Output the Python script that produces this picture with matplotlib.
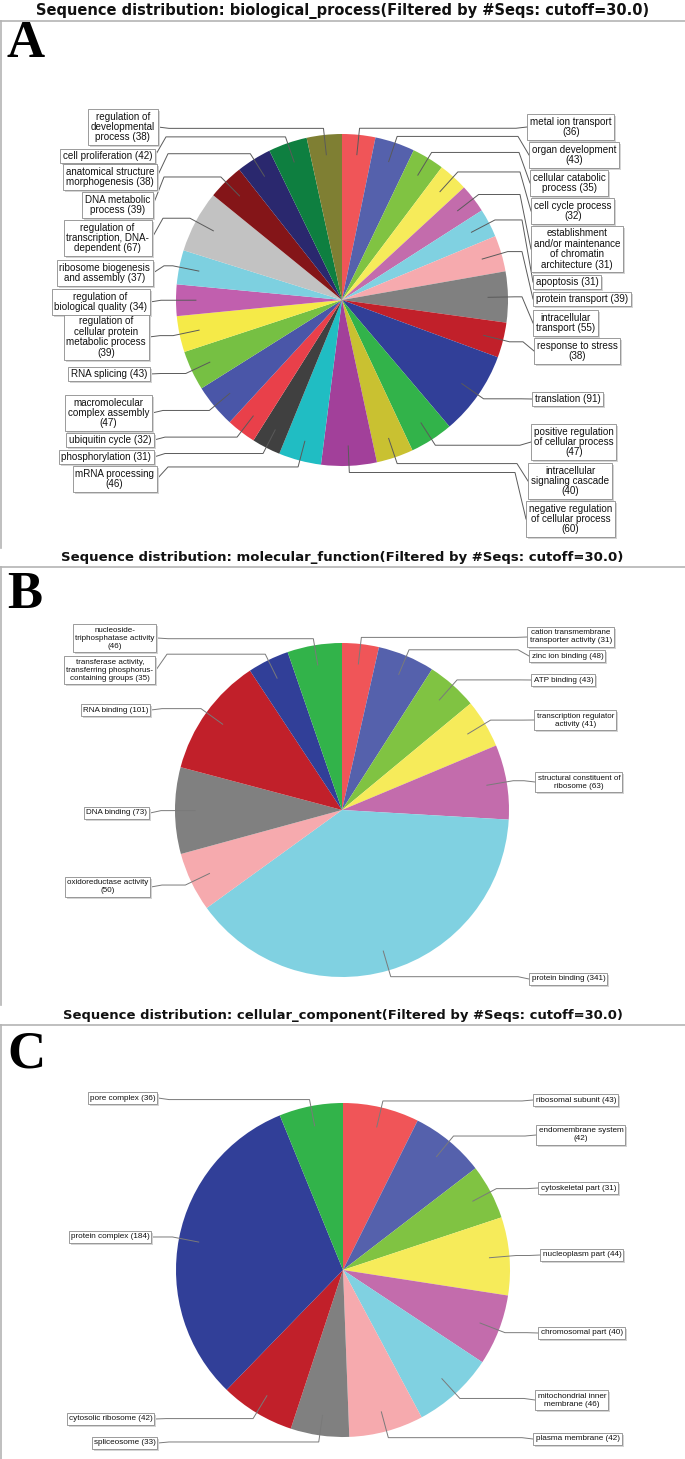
import matplotlib
matplotlib.use('Agg')
import matplotlib.pyplot as plt
import numpy as np

W, H = 685, 1459

# ---------------- data ----------------
bp_names = ["metal ion transport\n", "organ development\n", "cellular catabolic\nprocess",
            "cell cycle process\n", "establishment\nand/or maintenance\nof chromatin\narchitecture",
            "apoptosis", "protein transport", "intracellular\ntransport", "response to stress\n",
            "translation", "positive regulation\nof cellular process\n",
            "intracellular\nsignaling cascade\n", "negative regulation\nof cellular process\n",
            "mRNA processing\n", "phosphorylation", "ubiquitin cycle",
            "macromolecular\ncomplex assembly\n", "RNA splicing",
            "regulation of\ncellular protein\nmetabolic process\n",
            "regulation of\nbiological quality", "ribosome biogenesis\nand assembly",
            "regulation of\ntranscription, DNA-\ndependent", "DNA metabolic\nprocess",
            "anatomical structure\nmorphogenesis", "cell proliferation",
            "regulation of\ndevelopmental\nprocess"]
bp_values = [36, 43, 35, 32, 31, 31, 39, 55, 38, 91, 47, 40, 60, 46, 31, 32, 47, 43, 39, 34,
             37, 67, 39, 38, 42, 38]
bp_colors = ['#F05558', '#5561AC', '#80C342', '#F6EB5A', '#C36CAC', '#80D1E1', '#F6AAAE',
             '#808080', '#C1202A', '#313F98', '#32B34A', '#C9C131', '#A2409A', '#20BDC3',
             '#404040', '#E9404A', '#4A56A8', '#76C043', '#F5EA48', '#C15FAE', '#7DD0E0',
             '#C2C2C2', '#841518', '#2A286E', '#0E7F40', '#7F7F33']

mf_names = ["cation transmembrane\ntransporter activity", "zinc ion binding", "ATP binding",
            "transcription regulator\nactivity", "structural constituent of\nribosome",
            "protein binding", "oxidoreductase activity\n", "DNA binding", "RNA binding",
            "transferase activity,\ntransferring phosphorus-\ncontaining groups",
            "nucleoside-\ntriphosphatase activity\n"]
mf_values = [31, 48, 43, 41, 63, 341, 50, 73, 101, 35, 46]
mf_colors = ['#F05558', '#5561AC', '#80C342', '#F6EB5A', '#C36CAC', '#80D1E1', '#F6AAAE',
             '#808080', '#C1202A', '#313F98', '#32B34A']

cc_names = ["ribosomal subunit", "endomembrane system\n", "cytoskeletal part",
            "nucleoplasm part", "chromosomal part", "mitochondrial inner\nmembrane",
            "plasma membrane", "spliceosome", "cytosolic ribosome", "protein complex",
            "pore complex"]
cc_values = [43, 42, 31, 44, 40, 46, 42, 33, 42, 184, 36]
cc_colors = ['#F05558', '#5561AC', '#80C342', '#F6EB5A', '#C36CAC', '#80D1E1', '#F6AAAE',
             '#808080', '#C1202A', '#313F98', '#32B34A']

titles = ["Sequence distribution: biological_process(Filtered by #Seqs: cutoff=30.0)",
          "Sequence distribution: molecular_function(Filtered by #Seqs: cutoff=30.0)",
          "Sequence distribution: cellular_component(Filtered by #Seqs: cutoff=30.0)"]
panel_letters = ["A", "B", "C"]

# ---------------- layout (pixels) ----------------
bp_layout = [('R', 527, 127), ('R', 529, 155), ('R', 530, 183), ('R', 531, 211),
             ('R', 531, 249), ('R', 533, 282), ('R', 533, 299), ('R', 533, 323),
             ('R', 534, 351), ('R', 532, 399), ('R', 531, 442), ('R', 528, 481),
             ('R', 526, 519), ('L', 157, 479), ('L', 154, 457), ('L', 154, 440),
             ('L', 152, 413), ('L', 150, 374), ('L', 149, 337), ('L', 150, 302),
             ('L', 153, 273), ('L', 152, 238), ('L', 153, 205), ('L', 157, 177),
             ('L', 155, 156), ('L', 158, 127)]
mf_layout = [('R', 527, 637), ('R', 529, 656), ('R', 531, 680), ('R', 534, 720),
             ('R', 535, 782), ('R', 529, 979), ('L', 151, 887), ('L', 150, 813),
             ('L', 151, 710), ('L', 156, 670), ('L', 157, 638)]
cc_layout = [('R', 533, 1100), ('R', 536, 1135), ('R', 538, 1188), ('R', 540, 1255),
             ('R', 538, 1333), ('R', 535, 1400), ('R', 533, 1439), ('L', 158, 1443),
             ('L', 155, 1419), ('L', 152, 1237), ('L', 158, 1098)]

panels = [
    dict(names=bp_names, values=bp_values, colors=bp_colors, layout=bp_layout,
         center=(342, 300), r=166, fs=7.1, ls=1.05, title_y=11, line_y=21, bottom=548,
         letter_y=44, title_fs=10.5, lc='#5a5a5a'),
    dict(names=mf_names, values=mf_values, colors=mf_colors, layout=mf_layout,
         center=(342, 810), r=167, fs=5.8, ls=1.2, title_y=558, line_y=567, bottom=1005,
         letter_y=595, title_fs=9.5, lc='#7a7a7a'),
    dict(names=cc_names, values=cc_values, colors=cc_colors, layout=cc_layout,
         center=(343, 1270), r=167, fs=5.9, ls=1.2, title_y=1016, line_y=1025, bottom=H,
         letter_y=1054, title_fs=9.45, lc='#7a7a7a'),
]

fig = plt.figure(figsize=(W / 100, H / 100), dpi=100)
ax = fig.add_axes([0, 0, 1, 1])

LABEL_FONT = ['Liberation Sans', 'DejaVu Sans']

for i, p in enumerate(panels):
    cx, cy = p['center']
    r = p['r']
    wedges, _ = ax.pie(p['values'], colors=p['colors'], startangle=-90, counterclock=True,
                       center=(cx, cy), radius=r, frame=True,
                       wedgeprops=dict(linewidth=0, antialiased=True))
    padpx = 0.25 * p['fs'] * 100 / 72
    for w, name, v, (side, ex, ey) in zip(wedges, p['names'], p['values'], p['layout']):
        th = np.deg2rad((w.theta1 + w.theta2) / 2)
        ux, uy = np.cos(th), np.sin(th)
        p0 = (cx + 0.88 * r * ux, cy + 0.88 * r * uy)
        p1 = (cx + 1.04 * r * ux, cy + 1.04 * r * uy)
        sgn = 1 if side == 'R' else -1
        p2 = (ex - sgn * 11, p1[1])
        p3 = (ex, ey)
        ax.plot([p0[0], p1[0], p2[0], p3[0]], [p0[1], p1[1], p2[1], p3[1]],
                color=p['lc'], lw=0.7, zorder=3, solid_joinstyle='miter')
        txt = name + ('' if name.endswith('\n') else ' ') + f'({v})'
        tx = ex + sgn * (padpx + 0.5)
        ha = 'left' if side == 'R' else 'right'
        # shadow
        ax.text(tx + 2, ey + 2, txt, ha=ha, va='center', multialignment='center',
                fontsize=p['fs'], family=LABEL_FONT, color=(0, 0, 0, 0), linespacing=p['ls'],
                bbox=dict(boxstyle='square,pad=0.25', fc='#d4d4d4', ec='none'), zorder=4)
        ax.text(tx, ey, txt, ha=ha, va='center', multialignment='center',
                fontsize=p['fs'], family=LABEL_FONT, color='#111111', linespacing=p['ls'],
                bbox=dict(boxstyle='square,pad=0.25', fc='white', ec='#8a8a8a', lw=0.6),
                zorder=5)
    # title, frame lines, letter
    ax.text(W / 2, p['title_y'], titles[i], ha='center', va='center', fontsize=p['title_fs'],
            fontweight='bold', family=['DejaVu Sans'], color='#111111', zorder=6)
    ax.plot([0, W], [p['line_y'], p['line_y']], color='#b4b4b4', lw=1.2, zorder=6)
    ax.plot([1.5, 1.5], [p['line_y'], p['bottom']], color='#b4b4b4', lw=1.2, zorder=6)
    ax.text(7, p['letter_y'], panel_letters[i], ha='left', va='center', fontsize=38,
            fontweight='bold', family=['Liberation Serif', 'DejaVu Serif'], color='black',
            zorder=6)

ax.set_xlim(0, W)
ax.set_ylim(H, 0)
ax.set_aspect('auto')
ax.axis('off')

fig.savefig('out.png', dpi=100, facecolor='white')
